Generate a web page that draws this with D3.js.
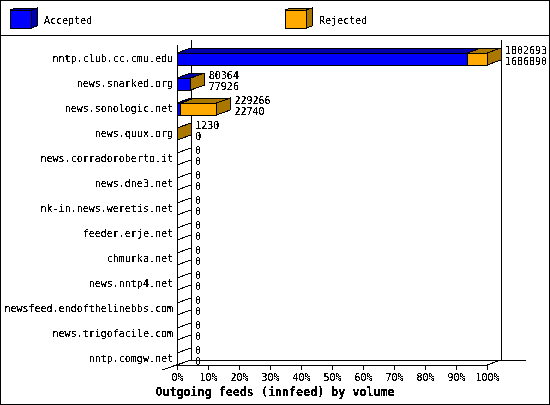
<!DOCTYPE html>
<html>
<head>
<meta charset="utf-8">
<script src="https://cdnjs.cloudflare.com/ajax/libs/d3/7.8.5/d3.min.js"></script>
<style>
  html, body { margin: 0; padding: 0; background: #fff; }
  svg { display: block; }
  text { font-family: "DejaVu Sans Mono", monospace; font-size: 10px; fill: #000; }
  .title { font-size: 11.7px; font-weight: bold; }
  .lines line, .lines path, .lines polygon, .lines rect { shape-rendering: crispEdges; }
</style>
</head>
<body>
<svg width="550" height="405"></svg>
<script>
const hosts = ["nntp.club.cc.cmu.edu", "news.snarked.org", "news.sonologic.net", "news.quux.org",
  "news.corradoroberto.it", "news.dne3.net", "nk-in.news.weretis.net", "feeder.erje.net",
  "chmurka.net", "news.nntp4.net", "newsfeed.endofthelinebbs.com", "news.trigofacile.com", "nntp.comgw.net"]
const offered = [1802693, 80364, 229266, 1230, 0, 0, 0, 0, 0, 0, 0, 0, 0]
const accepted = [1686890, 77926, 22740, 0, 0, 0, 0, 0, 0, 0, 0, 0, 0]
const legendNames = ["Accepted", "Rejected"]
const percents = [0, 10, 20, 30, 40, 50, 60, 70, 80, 90, 100]

const blue = "#0000ff", darkBlue = "#0000aa", orange = "#ffaa00", brown = "#aa7700"
const depthX = 14, depthY = 5, barH = 12

const svg = d3.select("svg")

// text thresholded so it looks like the aliased original
svg.append("defs").append("filter").attr("id", "hard")
    .attr("filterUnits", "userSpaceOnUse")
    .attr("x", 0).attr("y", 0).attr("width", 550).attr("height", 405)
    .append("feComponentTransfer")
    .append("feFuncA").attr("type", "discrete").attr("tableValues", "0 0 0 1 1 1 1 1")

const x = d3.scaleLinear().domain([0, d3.max(offered)]).range([177, 487])
const pct = d3.scaleLinear().domain([0, 100]).range([177, 487])
const y = d3.scaleBand().domain(hosts).range([46.5, 371.5])
const g = svg.append("g").attr("class", "lines")
const pts = a => a.map(p => p.join(",")).join(" ")

// frame
g.append("rect").attr("x", 0.5).attr("y", 0.5).attr("width", 549).attr("height", 404)
    .attr("fill", "#fff").attr("stroke", "#000")
g.append("line").attr("x1", 0).attr("x2", 550).attr("y1", 35.5).attr("y2", 35.5).attr("stroke", "#000")

// legend
function box(x0, front, side) {
  g.append("polygon").attr("points", pts([[x0, 10], [x0 + 6, 8], [x0 + 27, 8], [x0 + 21, 10]]))
      .attr("fill", side).attr("stroke", "#000")
  g.append("polygon").attr("points", pts([[x0 + 21, 10], [x0 + 27, 8], [x0 + 27, 26], [x0 + 21, 28]]))
      .attr("fill", side).attr("stroke", "#000")
  g.append("rect").attr("x", x0).attr("y", 10).attr("width", 21).attr("height", 18)
      .attr("fill", front).attr("stroke", "#000")
}
box(10, blue, darkBlue)
box(285, orange, brown)

// walls
const x0 = pct(0), x1 = pct(100), yFront = 365, yBack = yFront - depthY, yTop = 40
const wall = [
  [x0, yFront - 320, x0, yFront], [x0 + depthX, yTop, x0 + depthX, yBack], [x1 + depthX, yTop, x1 + depthX, yBack],
  [x0 + depthX, yBack, 526, yBack], [x1, yFront, x1 + depthX, yBack], [162, yFront + 5, x0 + depthX, yBack]
]
g.selectAll(".wall").data(wall).enter().append("line").attr("class", "wall")
    .attr("x1", d => d[0]).attr("y1", d => d[1]).attr("x2", d => d[2]).attr("y2", d => d[3])
    .attr("stroke", "#000")

// bars, zero rows leave only the outline
hosts.forEach(function(h, i) {
  const top = y(h) + y.bandwidth() / 2 - barH / 2, a = x(accepted[i]), t = x(offered[i])
  const bar = g.append("g")
  const side = offered[i] === 0 ? "none" : (offered[i] > accepted[i] ? brown : darkBlue)
  bar.append("polygon").attr("points", pts([[x0, top], [x0 + depthX, top - depthY], [a + depthX, top - depthY], [a, top]]))
      .attr("fill", accepted[i] ? darkBlue : "none").attr("stroke", "#000")
  bar.append("polygon").attr("points", pts([[a, top], [a + depthX, top - depthY], [t + depthX, top - depthY], [t, top]]))
      .attr("fill", offered[i] ? brown : "none").attr("stroke", "#000")
  bar.append("polygon").attr("points", pts([[t, top], [t + depthX, top - depthY], [t + depthX, top + barH - depthY], [t, top + barH]]))
      .attr("fill", side).attr("stroke", "#000")
  if (t > x0) {
    bar.append("rect").attr("x", x0).attr("y", top).attr("width", a - x0).attr("height", barH)
        .attr("fill", blue).attr("stroke", "#000")
    bar.append("rect").attr("x", a).attr("y", top).attr("width", t - a).attr("height", barH)
        .attr("fill", orange).attr("stroke", "#000")
  }
})

// axes
const xAxis = g.append("g").attr("transform", "translate(0," + yFront + ")")
    .call(d3.axisBottom(pct).tickValues(percents).tickFormat(d => d + "%").tickSize(5).tickSizeOuter(0).tickPadding(3))
xAxis.selectAll("text").remove()

const labels = svg.append("g").attr("filter", "url(#hard)")
labels.append("g").attr("transform", "translate(0," + yFront + ")")
    .call(d3.axisBottom(pct).tickValues(percents).tickFormat(d => d + "%").tickSize(5).tickPadding(4))
    .call(s => s.selectAll("path,line").remove())
    .attr("font-family", null).attr("font-size", null)

labels.append("g").attr("transform", "translate(177,0)")
    .call(d3.axisLeft(y).tickSize(0).tickPadding(4))
    .call(s => s.selectAll("path,line").remove())
    .attr("font-family", null).attr("font-size", null)

hosts.forEach(function(h, i) {
  const mid = y(h) + y.bandwidth() / 2, lx = x(offered[i]) + depthX + 4
  labels.append("text").attr("x", lx).attr("y", mid - 5.5).text(offered[i])
  labels.append("text").attr("x", lx).attr("y", mid + 5.5).text(accepted[i])
})

labels.append("text").attr("x", 44).attr("y", 24).text(legendNames[0])
labels.append("text").attr("x", 319).attr("y", 24).text(legendNames[1])
labels.append("text").attr("class", "title").attr("x", 275).attr("y", 396).attr("text-anchor", "middle")
    .text("Outgoing feeds (innfeed) by volume")
</script>
</body>
</html>
